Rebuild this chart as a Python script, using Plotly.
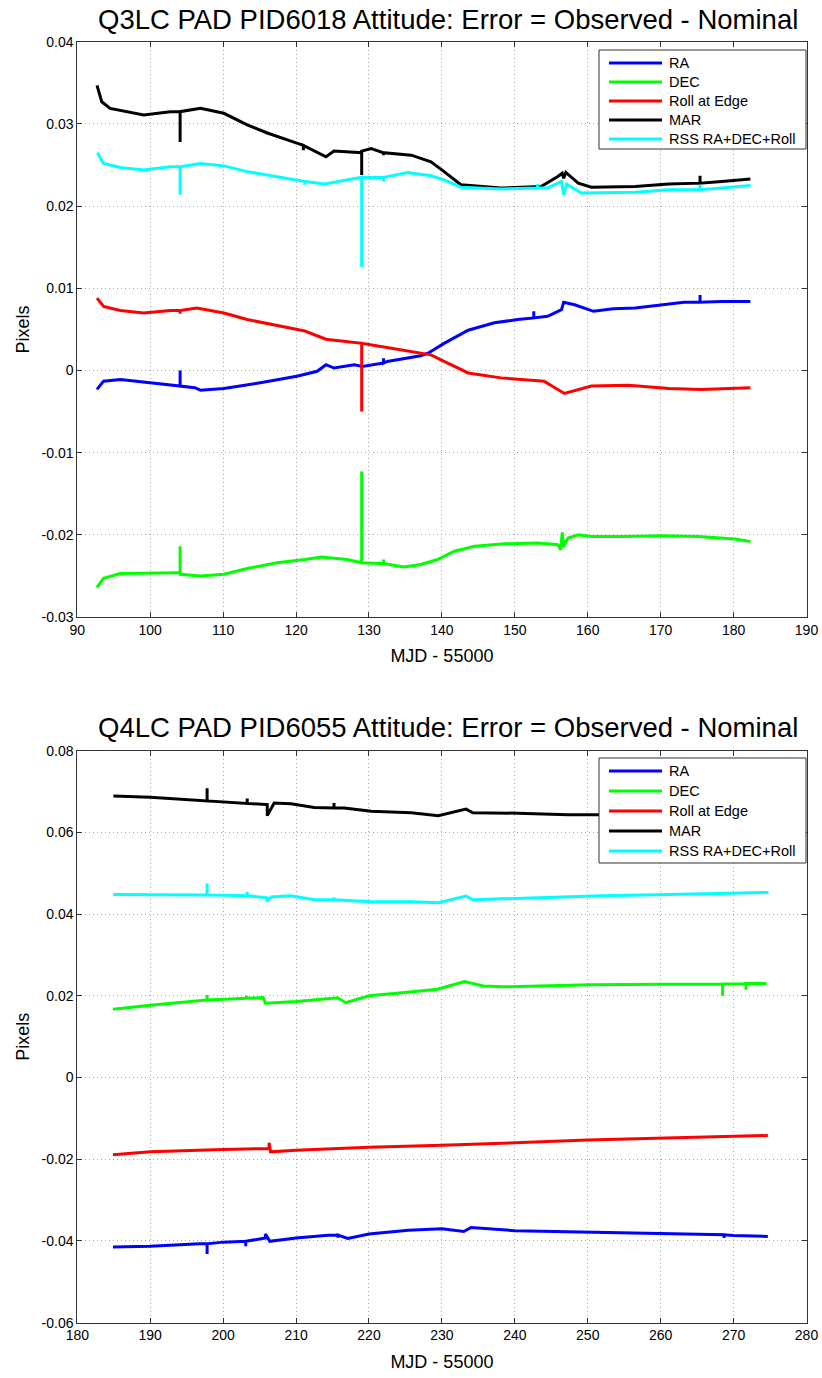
import plotly.graph_objects as go

W, H = 822, 1378

# ---------------- Data: Q3LC PAD PID6018 (top panel) ----------------
q3_ra_x = [92.7, 93.6, 95.9, 100.0, 103.7, 104.1, 104.1, 104.1, 106.1, 106.9, 110.1, 115.1, 120.1, 122.9,
           124.1, 125.2, 128.0, 129.1, 132.0, 132.0, 132.0, 132.5, 134.4, 137.1, 138.1, 140.3, 143.6, 147.2,
           150.4, 152.6, 152.6, 152.6, 154.5, 156.4, 156.7, 158.2, 160.8, 163.5, 166.5, 169.2, 173.2, 175.4,
           175.4, 175.4, 178.4, 182.3]
q3_ra_y = [-0.0023, -0.0013, -0.0011, -0.0015, -0.0019, -0.0019, 0.0000, -0.0019, -0.0021, -0.0024, -0.0022,
           -0.0015, -0.0007, -0.0001, 0.0007, 0.0003, 0.0007, 0.0005, 0.0009, 0.0015, 0.0009, 0.0011, 0.0014,
           0.0018, 0.0021, 0.0033, 0.0049, 0.0058, 0.0062, 0.0064, 0.0072, 0.0064, 0.0066, 0.0074, 0.0083,
           0.0080, 0.0072, 0.0075, 0.0076, 0.0079, 0.0083, 0.0083, 0.0092, 0.0083, 0.0084, 0.0084]

q3_dec_x = [92.7, 93.6, 95.9, 100.0, 103.7, 104.1, 104.1, 104.1, 106.9, 110.1, 113.3, 117.4, 121.2, 123.5,
            127.0, 129.0, 129.0, 129.0, 131.6, 132.0, 132.0, 132.0, 134.8, 137.1, 139.4, 141.7, 144.5, 148.6,
            153.2, 155.9, 156.3, 156.5, 156.7, 157.0, 157.3, 158.7, 160.5, 164.7, 170.2, 175.2, 180.2, 182.3]
q3_dec_y = [-0.0264, -0.0253, -0.0247, -0.0246, -0.0246, -0.0246, -0.0214, -0.0248, -0.0250, -0.0248,
            -0.0241, -0.0234, -0.0230, -0.0227, -0.0230, -0.0234, -0.0123, -0.0234, -0.0235, -0.0235, -0.0230,
            -0.0235, -0.0239, -0.0236, -0.0230, -0.0220, -0.0214, -0.0211, -0.0210, -0.0212, -0.0218, -0.0197,
            -0.0215, -0.0208, -0.0204, -0.0200, -0.0202, -0.0202, -0.0201, -0.0202, -0.0205, -0.0208]

q3_roll_x = [92.7, 93.6, 95.9, 99.1, 102.75, 104.1, 104.1, 104.1, 106.4, 110.1, 113.3, 117.4, 121.2, 124.1,
             127.0, 129.0, 129.0, 129.0, 131.0, 134.4, 136.5, 138.5, 140.3, 143.6, 148.1, 154.0, 156.8, 160.5,
             165.6, 171.1, 175.6, 182.3]
q3_roll_y = [0.0088, 0.0078, 0.0073, 0.0070, 0.0073, 0.0073, 0.0069, 0.0073, 0.0076, 0.0070, 0.0062, 0.0055,
             0.0048, 0.0038, 0.0035, 0.0033, -0.0050, 0.0033, 0.0030, 0.0025, 0.0022, 0.0019, 0.0011, -0.0003,
             -0.0009, -0.0013, -0.0028, -0.0019, -0.0018, -0.0022, -0.0023, -0.0021]

q3_mar_x = [92.7, 93.35, 94.5, 99.1, 102.75, 104.1, 104.1, 104.1, 106.9, 110.1, 113.3, 116.05, 119.7, 121.0,
            121.0, 121.0, 124.1, 125.2, 129.0, 129.0, 129.0, 130.3, 132.0, 132.0, 132.0, 135.8, 138.5, 140.3,
            142.6, 148.1, 153.6, 155.9, 156.5, 156.7, 157.0, 158.7, 160.5, 166.5, 171.1, 175.4, 175.4, 175.4,
            178.4, 182.3]
q3_mar_y = [0.0347, 0.0327, 0.0319, 0.0311, 0.0315, 0.0315, 0.0278, 0.0315, 0.0319, 0.0313, 0.0299, 0.0289,
            0.0278, 0.0274, 0.0268, 0.0274, 0.0260, 0.0267, 0.0265, 0.0238, 0.0267, 0.0270, 0.0265, 0.0262,
            0.0265, 0.0262, 0.0254, 0.0242, 0.0226, 0.0222, 0.0224, 0.0236, 0.0240, 0.0234, 0.0241, 0.0228,
            0.0223, 0.0224, 0.0227, 0.0228, 0.0237, 0.0228, 0.0230, 0.0233]

q3_rss_x = [92.75, 93.6, 95.9, 99.1, 102.75, 104.1, 104.1, 104.1, 106.9, 110.1, 113.3, 117.4, 121.2, 121.2,
            121.2, 123.9, 127.0, 129.0, 129.0, 129.0, 132.0, 132.0, 132.0, 135.3, 138.5, 140.3, 142.6, 148.1,
            153.1, 153.1, 153.1, 154.5, 156.4, 156.7, 157.1, 159.1, 166.5, 171.1, 175.4, 175.4, 175.4, 178.4,
            182.3]
q3_rss_y = [0.0265, 0.0252, 0.0247, 0.0244, 0.0248, 0.0248, 0.0214, 0.0248, 0.0252, 0.0249, 0.0242, 0.0236,
            0.0230, 0.0226, 0.0230, 0.0227, 0.0232, 0.0235, 0.0126, 0.0235, 0.0235, 0.0230, 0.0235, 0.0241,
            0.0237, 0.0232, 0.0223, 0.0221, 0.0222, 0.0227, 0.0222, 0.0222, 0.0230, 0.0214, 0.0227, 0.0216,
            0.0217, 0.0220, 0.0220, 0.0226, 0.0220, 0.0222, 0.0225]

# ---------------- Data: Q4LC PAD PID6055 (bottom panel) ----------------
q4_ra_x = [184.9, 190.0, 196.8, 197.8, 197.8, 197.8, 200.0, 203.1, 203.1, 203.1, 205.8, 205.8, 206.4, 210.0,
           214.4, 215.75, 215.75, 215.75, 217.1, 220.0, 225.4, 230.0, 233.0, 234.0, 240.0, 250.0, 260.0,
           268.7, 268.7, 268.7, 270.0, 274.7]
q4_ra_y = [-0.0415, -0.0413, -0.0407, -0.0407, -0.0432, -0.0407, -0.0403, -0.0401, -0.0413, -0.0401, -0.0393,
           -0.0383, -0.0401, -0.0393, -0.0386, -0.0386, -0.0392, -0.0386, -0.0394, -0.0383, -0.0374, -0.0370,
           -0.0377, -0.0367, -0.0375, -0.0379, -0.0383, -0.0385, -0.0393, -0.0385, -0.0387, -0.0389]

q4_dec_x = [184.9, 190.0, 197.8, 197.8, 197.8, 203.2, 203.2, 203.2, 205.5, 205.8, 210.0, 215.7, 216.8, 220.0,
            224.9, 229.4, 233.1, 235.7, 238.3, 244.0, 250.4, 260.0, 268.5, 268.5, 268.5, 271.7, 271.7, 271.7,
            274.5]
q4_dec_y = [0.0167, 0.0177, 0.0190, 0.0202, 0.0190, 0.0194, 0.0200, 0.0194, 0.0196, 0.0182, 0.0186, 0.0195,
            0.0183, 0.0200, 0.0208, 0.0216, 0.0235, 0.0224, 0.0222, 0.0225, 0.0227, 0.0228, 0.0229, 0.0200,
            0.0229, 0.0230, 0.0215, 0.0230, 0.0230]

q4_roll_x = [184.9, 190.0, 200.0, 205.4, 206.3, 206.3, 206.5, 210.0, 220.0, 230.0, 234.7, 240.0, 250.0,
             260.0, 270.0, 274.7]
q4_roll_y = [-0.0189, -0.0182, -0.0176, -0.0174, -0.0174, -0.0160, -0.0182, -0.0178, -0.0171, -0.0166,
             -0.0164, -0.0160, -0.0153, -0.0148, -0.0144, -0.0142]

q4_mar_x = [184.95, 190.0, 197.8, 197.8, 197.8, 203.3, 203.3, 203.3, 206.05, 206.05, 207.0, 209.3, 212.5,
            215.2, 215.2, 215.2, 216.6, 220.3, 225.8, 229.5, 233.3, 234.25, 240.4, 247.3, 251.8, 260.0, 270.0,
            274.7]
q4_mar_y = [0.0689, 0.0686, 0.0677, 0.0708, 0.0677, 0.0671, 0.0683, 0.0671, 0.0668, 0.0641, 0.0672, 0.0670,
            0.0661, 0.0660, 0.0672, 0.0660, 0.0660, 0.0652, 0.0648, 0.0641, 0.0657, 0.0648, 0.0647, 0.0643,
            0.0643, 0.0642, 0.0641, 0.0640]

q4_rss_x = [184.95, 190.0, 197.8, 197.8, 197.8, 203.3, 203.3, 203.3, 206.0, 206.0, 206.6, 209.3, 212.5,
            215.2, 215.2, 215.2, 220.3, 225.8, 229.5, 233.3, 234.25, 240.4, 251.8, 261.1, 269.1, 274.8]
q4_rss_y = [0.0448, 0.0448, 0.0447, 0.0475, 0.0447, 0.0445, 0.0455, 0.0445, 0.0440, 0.0432, 0.0442, 0.0445,
            0.0435, 0.0435, 0.0441, 0.0435, 0.0430, 0.0430, 0.0428, 0.0444, 0.0435, 0.0439, 0.0445, 0.0448,
            0.0450, 0.0453]

# ---------------- Labels / ticks ----------------
series_names = ["RA", "DEC", "Roll at Edge", "MAR", "RSS RA+DEC+Roll"]
series_colors = ["#0000FF", "#00FF00", "#FF0000", "#000000", "#00FFFF"]

title_top = "Q3LC PAD PID6018 Attitude: Error = Observed - Nominal"
title_bot = "Q4LC PAD PID6055 Attitude: Error = Observed - Nominal"
x_label = "MJD - 55000"
y_label = "Pixels"

top_xticks = [90, 100, 110, 120, 130, 140, 150, 160, 170, 180, 190]
top_yticks = [-0.03, -0.02, -0.01, 0.0, 0.01, 0.02, 0.03, 0.04]
top_ytext = ["-0.03", "-0.02", "-0.01", "0", "0.01", "0.02", "0.03", "0.04"]
bot_xticks = [180, 190, 200, 210, 220, 230, 240, 250, 260, 270, 280]
bot_yticks = [-0.06, -0.04, -0.02, 0.0, 0.02, 0.04, 0.06, 0.08]
bot_ytext = ["-0.06", "-0.04", "-0.02", "0", "0.02", "0.04", "0.06", "0.08"]

FONT = "Liberation Sans, Arial, Helvetica, sans-serif"
AXC = "#333333"

fig = go.Figure()

top_series = [(q3_ra_x, q3_ra_y), (q3_dec_x, q3_dec_y), (q3_roll_x, q3_roll_y),
              (q3_mar_x, q3_mar_y), (q3_rss_x, q3_rss_y)]
bot_series = [(q4_ra_x, q4_ra_y), (q4_dec_x, q4_dec_y), (q4_roll_x, q4_roll_y),
              (q4_mar_x, q4_mar_y), (q4_rss_x, q4_rss_y)]

for (xs, ys), name, col in zip(top_series, series_names, series_colors):
    fig.add_trace(go.Scatter(x=xs, y=ys, mode="lines", name=name, showlegend=False,
                             line=dict(color=col, width=3), xaxis="x", yaxis="y"))
for (xs, ys), name, col in zip(bot_series, series_names, series_colors):
    fig.add_trace(go.Scatter(x=xs, y=ys, mode="lines", name=name, showlegend=False,
                             line=dict(color=col, width=3), xaxis="x2", yaxis="y2"))


def px_x(p):
    return p / W


def px_y(p):
    return 1 - p / H


title_font = dict(family=FONT, size=18, color="#000000")
axis_common = dict(showline=True, linecolor=AXC, linewidth=1, mirror="ticks",
                   ticks="inside", ticklen=5, tickcolor=AXC, showgrid=True,
                   gridcolor="#a8a8a8", griddash="1px,3px", gridwidth=1, zeroline=False,
                   automargin=False, tickfont=dict(family=FONT, size=14, color="#000000"))

xdom = [px_x(77.3), px_x(806.5)]

shapes = []
annotations = [
    dict(text=title_top, x=px_x(448), y=px_y(19), xref="paper", yref="paper",
         showarrow=False, xanchor="center", yanchor="middle",
         font=dict(family=FONT, size=27.5, color="#000000")),
    dict(text=title_bot, x=px_x(448), y=px_y(727), xref="paper", yref="paper",
         showarrow=False, xanchor="center", yanchor="middle",
         font=dict(family=FONT, size=27.5, color="#000000")),
]

# legend boxes (drawn with shapes/annotations so the sample length matches the original)
legend_boxes = [dict(left=599, right=806, top=50, bottom=149, first_row=63, step=19),
                dict(left=599, right=806, top=758, bottom=863, first_row=771, step=20)]
for box in legend_boxes:
    shapes.append(dict(type="rect", xref="paper", yref="paper", layer="above",
                       x0=px_x(box["left"]), x1=px_x(box["right"]),
                       y0=px_y(box["bottom"]), y1=px_y(box["top"]),
                       fillcolor="white", line=dict(color=AXC, width=1)))
    for i, (name, col) in enumerate(zip(series_names, series_colors)):
        row = box["first_row"] + i * box["step"]
        shapes.append(dict(type="line", xref="paper", yref="paper", layer="above",
                           x0=px_x(box["left"] + 10), x1=px_x(box["left"] + 63),
                           y0=px_y(row), y1=px_y(row), line=dict(color=col, width=3)))
        annotations.append(dict(text=name, x=px_x(box["left"] + 68), y=px_y(row),
                                xref="paper", yref="paper", showarrow=False,
                                xanchor="left", yanchor="middle",
                                font=dict(family=FONT, size=14.5, color="#000000")))

fig.update_layout(
    width=W, height=H,
    margin=dict(l=0, r=0, t=0, b=0),
    paper_bgcolor="white", plot_bgcolor="white",
    font=dict(family=FONT, color="#000000"),
    showlegend=False,
    xaxis=dict(axis_common, domain=xdom, anchor="y", range=[90, 190],
               tickvals=top_xticks, ticktext=[str(v) for v in top_xticks],
               title=dict(text=x_label, standoff=12, font=title_font)),
    yaxis=dict(axis_common, domain=[px_y(617.0), px_y(41.8)], anchor="x", range=[-0.03, 0.04],
               tickvals=top_yticks, ticktext=top_ytext,
               title=dict(text=y_label, standoff=7, font=title_font)),
    xaxis2=dict(axis_common, domain=xdom, anchor="y2", range=[180, 280],
                tickvals=bot_xticks, ticktext=[str(v) for v in bot_xticks],
                title=dict(text=x_label, standoff=12, font=title_font)),
    yaxis2=dict(axis_common, domain=[px_y(1322.6), px_y(750.7)], anchor="x2", range=[-0.06, 0.08],
                tickvals=bot_yticks, ticktext=bot_ytext,
                title=dict(text=y_label, standoff=7, font=title_font)),
    shapes=shapes,
    annotations=annotations,
)

fig.write_html("out.html")
